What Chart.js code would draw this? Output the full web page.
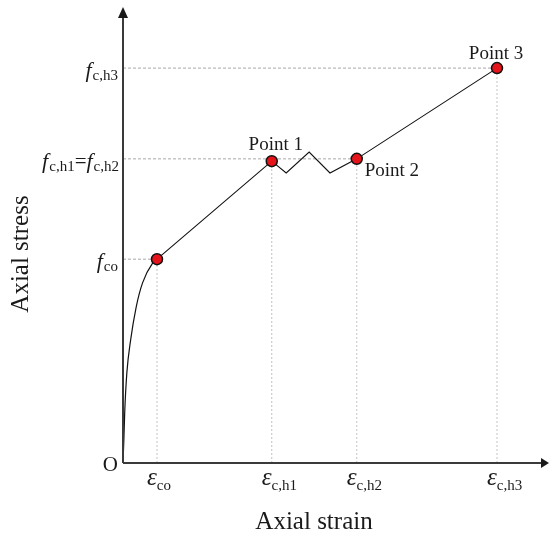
<!DOCTYPE html>
<html>
<head>
<meta charset="utf-8">
<script src="https://cdn.jsdelivr.net/npm/chart.js@4/dist/chart.umd.min.js"></script>
<style>
  html, body { margin: 0; padding: 0; background: #fff; }
  #wrap { width: 549px; height: 533px; position: relative; }
</style>
</head>
<body>
<div id="wrap"><canvas id="chart"></canvas></div>
<script>
// ===== Data (arbitrary strain / stress units) =====
// initial curved branch, origin -> f_co
const curveStrain = [0, 0.02, 0.04, 0.09, 0.18, 0.31, 0.46, 0.7, 0.8];
const curveStress = [0, 0.5, 1.1, 1.97, 2.7, 3.42, 3.95, 4.39, 4.47];

// linear branch with the zigzag break between point 1 and point 2
const pathStrain = [0.8, 3.5, 3.84, 4.38, 4.87, 5.5, 8.8];
const pathStress = [4.47, 6.62, 6.36, 6.82, 6.36, 6.67, 8.66];

// key points
const keyStrain = [0.8, 3.5, 5.5, 8.8];
const keyStress = [4.47, 6.62, 6.67, 8.66];
const keyNames = ['', 'Point 1', 'Point 2', 'Point 3'];

// reference ticks
const xTickValues = [0.8, 3.5, 5.5, 8.8];
const xTickSubs = ['co', 'c,h1', 'c,h2', 'c,h3'];
const yTickValues = [4.47, 6.67, 8.66];
const yTickLabels = [
    [['f', 'i'], ['co', 's']],
    [['f', 'i'], ['c,h1', 's'], ['=', 'r'], ['f', 'i'], ['c,h2', 's']],
    [['f', 'i'], ['c,h3', 's']]
];
// horizontal guide ends (strain where each stress guide stops)
const yGuideEnds = [0.8, 5.5, 8.8];

const SERIF = '"Liberation Serif", "Times New Roman", serif';

const pts = (xs, ys) => xs.map((x, i) => ({ x, y: ys[i] }));

// guide line datasets
const guides = [];
xTickValues.forEach((x, i) => {
    guides.push({
        data: [{ x, y: 0 }, { x, y: keyStress[i] }],
        borderColor: '#c4c4c4', borderWidth: 1, borderDash: [2, 2],
        pointRadius: 0, showLine: true, order: 5
    });
});
yTickValues.forEach((y, i) => {
    guides.push({
        data: [{ x: 0, y }, { x: yGuideEnds[i], y }],
        borderColor: '#a8a8a8', borderWidth: 1, borderDash: [3, 2],
        pointRadius: 0, showLine: true, order: 5
    });
});

// ===== Axes, arrows and math labels =====
const decorPlugin = {
    id: 'decor',
    afterDraw(chart) {
        const { ctx, chartArea: a, scales: { x, y } } = chart;
        const ox = x.getPixelForValue(0), oy = y.getPixelForValue(0);
        ctx.save();

        // axes
        ctx.strokeStyle = '#3a3a3a';
        ctx.fillStyle = '#1a1a1a';
        ctx.lineWidth = 2;
        ctx.beginPath();
        ctx.moveTo(ox, oy); ctx.lineTo(a.right - 6, oy);
        ctx.moveTo(ox, oy); ctx.lineTo(ox, a.top + 8);
        ctx.stroke();
        ctx.beginPath();
        ctx.moveTo(a.right + 1, oy); ctx.lineTo(a.right - 7, oy - 5); ctx.lineTo(a.right - 7, oy + 5);
        ctx.closePath(); ctx.fill();
        ctx.beginPath();
        ctx.moveTo(ox, a.top); ctx.lineTo(ox - 5, a.top + 11); ctx.lineTo(ox + 5, a.top + 11);
        ctx.closePath(); ctx.fill();

        ctx.fillStyle = '#1a1a1a';
        ctx.textBaseline = 'alphabetic';

        const fontOf = t => t === 'i' ? 'italic 22px ' + SERIF : t === 'e' ? 'italic 25px ' + SERIF
            : t === 's' ? '15px ' + SERIF : '21px ' + SERIF;
        const measure = segs => segs.reduce((w, [s, t]) => { ctx.font = fontOf(t); return w + ctx.measureText(s).width; }, 0);
        const drawSegs = (segs, left, base, subDrop) => {
            let cx = left;
            segs.forEach(([s, t]) => {
                ctx.font = fontOf(t);
                ctx.fillText(s, cx, t === 's' ? base + subDrop : base);
                cx += ctx.measureText(s).width + (t === 'i' ? 1 : 0);
            });
        };

        // y tick labels, right aligned to the axis
        yTickValues.forEach((v, i) => {
            const segs = yTickLabels[i];
            const w = measure(segs);
            drawSegs(segs, ox - 6 - w, y.getPixelForValue(v) + 9, 3);
        });

        // x tick labels
        xTickValues.forEach((v, i) => {
            const px = x.getPixelForValue(v);
            drawSegs([['ε', 'e'], [xTickSubs[i], 's']], px - 10, oy + 22, 5);
        });

        // origin
        ctx.font = '21px ' + SERIF;
        ctx.textAlign = 'right';
        ctx.fillText('O', ox - 5, oy + 8);

        // point labels
        ctx.font = '19px ' + SERIF;
        const p1 = [x.getPixelForValue(keyStrain[1]), y.getPixelForValue(keyStress[1])];
        const p2 = [x.getPixelForValue(keyStrain[2]), y.getPixelForValue(keyStress[2])];
        const p3 = [x.getPixelForValue(keyStrain[3]), y.getPixelForValue(keyStress[3])];
        ctx.textAlign = 'center';
        ctx.fillText(keyNames[1], p1[0] + 4, p1[1] - 11);
        ctx.fillText(keyNames[3], p3[0] - 1, p3[1] - 9);
        ctx.textAlign = 'left';
        ctx.fillText(keyNames[2], p2[0] + 8, p2[1] + 17);

        // axis titles
        ctx.font = '25px ' + SERIF;
        ctx.textAlign = 'center';
        ctx.fillText('Axial strain', 314, 529);
        ctx.translate(28, 254);
        ctx.rotate(-Math.PI / 2);
        ctx.fillText('Axial stress', 0, 0);

        ctx.restore();
    }
};

new Chart(document.getElementById('chart'), {
    type: 'scatter',
    data: {
        datasets: [
            ...guides,
            {
                data: pts(curveStrain, curveStress),
                borderColor: '#111', borderWidth: 1.2, showLine: true,
                cubicInterpolationMode: 'monotone', pointRadius: 0, order: 2
            },
            {
                data: pts(pathStrain, pathStress),
                borderColor: '#111', borderWidth: 1.1, showLine: true,
                tension: 0, pointRadius: 0, order: 2
            },
            {
                data: pts(keyStrain, keyStress),
                backgroundColor: '#e5141b', borderColor: '#111', borderWidth: 1.5,
                pointRadius: 5.5, showLine: false, order: 1
            }
        ]
    },
    options: {
        responsive: true,
        maintainAspectRatio: false,
        animation: false,
        layout: { autoPadding: false, padding: { left: 123, right: 1, top: 7, bottom: 70 } },
        plugins: { legend: { display: false }, tooltip: { enabled: false } },
        scales: {
            x: { type: 'linear', min: 0, max: 10, display: false },
            y: { type: 'linear', min: 0, max: 10, display: false }
        }
    },
    plugins: [decorPlugin]
});
</script>
</body>
</html>
